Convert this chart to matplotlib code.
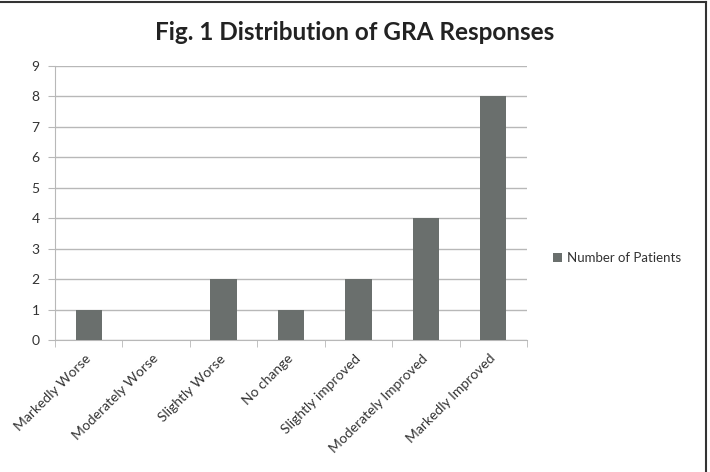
import matplotlib
matplotlib.use("Agg")
import matplotlib.pyplot as plt
from matplotlib.lines import Line2D

# GRA response categories and patient counts
categories = ["Markedly Worse", "Moderately Worse", "Slightly Worse", "No change",
              "Slightly improved", "Moderately Improved", "Markedly Improved"]
patients = [1, 0, 2, 1, 2, 4, 8]
y_ticks = list(range(0, 10))

bar_color = "#6a6f6d"
grid_color = "#b8b8b8"
text_color = "#333333"

plt.rcParams['font.family'] = ['Lato', 'DejaVu Sans']

fig = plt.figure(figsize=(7.1, 4.72), dpi=100)
ax = fig.add_axes([55 / 710, 1 - 340 / 472, (527 - 55) / 710, (340 - 66) / 472])

x = range(len(categories))
ax.bar(x, patients, width=0.39, color=bar_color, label="Number of Patients", zorder=3)

ax.set_xlim(-0.5, len(categories) - 0.5)
ax.set_ylim(0, 9)
ax.set_yticks(y_ticks)
ax.set_yticklabels([str(v) for v in y_ticks], fontsize=10, color=text_color)
ax.yaxis.grid(True, color=grid_color, linewidth=1, zorder=0)

# category labels in the middle, tick marks at the boundaries
ax.set_xticks(list(x))
ax.set_xticklabels(categories, rotation=45, ha="right", va="center",
                   rotation_mode="anchor", fontsize=10, color=text_color)
ax.tick_params(axis="x", length=0, pad=12)
ax.set_xticks([i - 0.5 for i in range(len(categories) + 1)], minor=True)
ax.tick_params(axis="x", which="minor", length=5, color=grid_color, direction="out")
ax.tick_params(axis="y", length=5, color=grid_color, direction="out", pad=6)

for side in ["top", "right"]:
    ax.spines[side].set_visible(False)
for side in ["left", "bottom"]:
    ax.spines[side].set_color(grid_color)

fig.suptitle("Fig. 1 Distribution of GRA Responses", x=0.5, y=1 - 32 / 472, va="center",
             fontsize=17.5, fontweight="bold", color="#222222")

fig.legend(loc="center left", bbox_to_anchor=(541 / 710, 1 - 258 / 472), frameon=False,
           fontsize=9.5, handlelength=0.7, handleheight=0.7, handletextpad=0.4,
           labelcolor=text_color)

# outer frame, top and right edges only
fig.add_artist(Line2D([0, 706 / 710], [1 - 2 / 472] * 2, transform=fig.transFigure,
                      color="#333333", linewidth=1.5))
fig.add_artist(Line2D([706 / 710] * 2, [0, 1 - 2 / 472], transform=fig.transFigure,
                      color="#333333", linewidth=1.5))

fig.savefig("out.png", dpi=100)
